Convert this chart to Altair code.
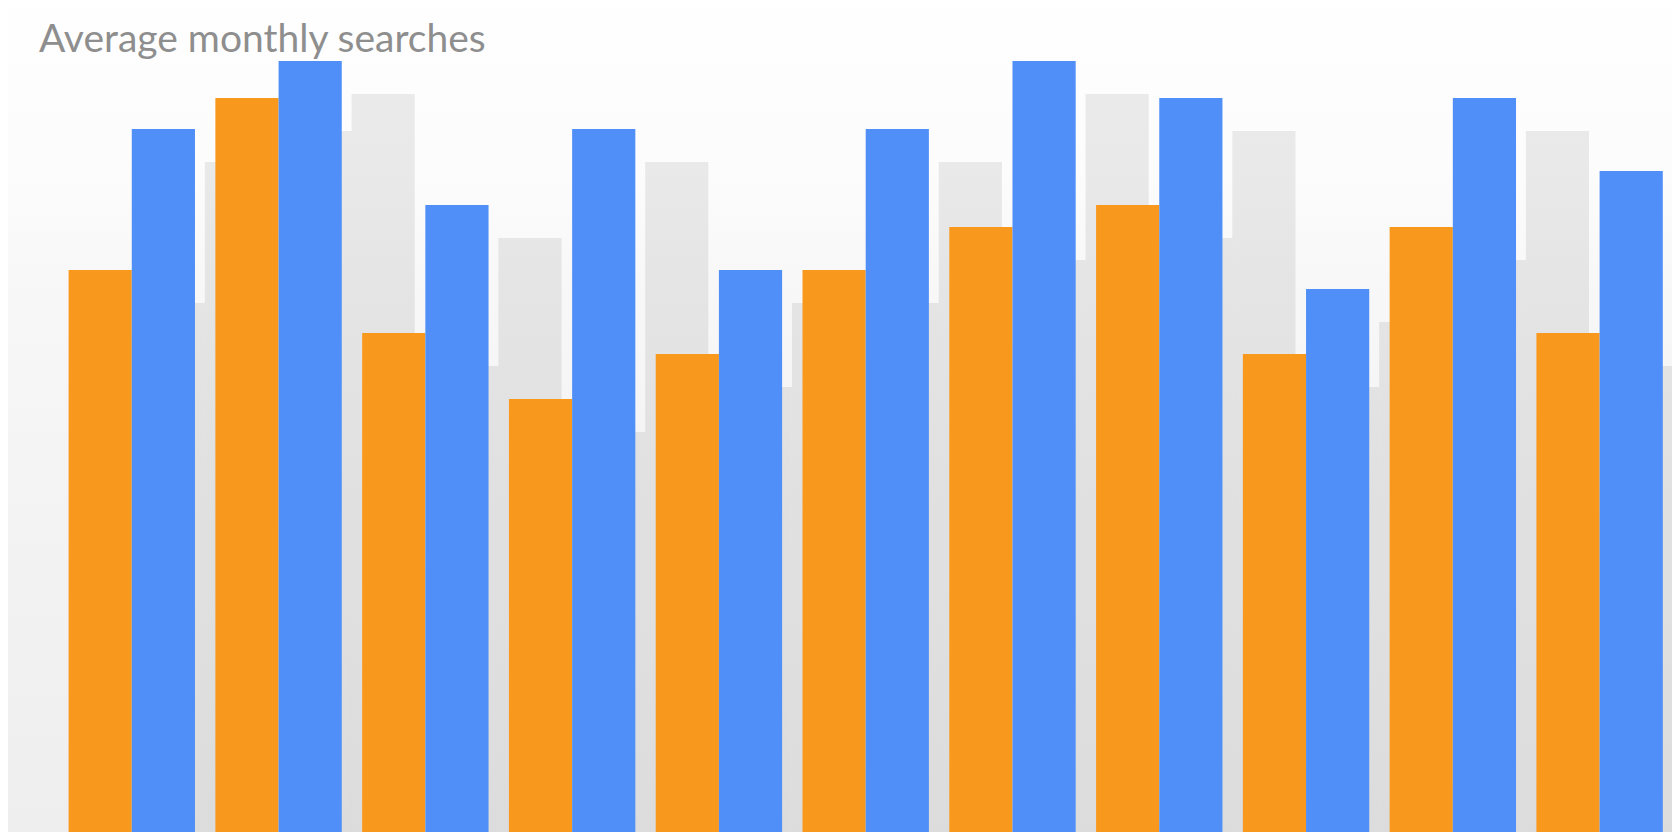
import altair as alt
import pandas as pd

# ---- data (no axes are shown, so units are bar heights) ----
groups = [f"Group {i}" for i in range(1, 12)]
series = ["Series A", "Series B"]
series_a = [570, 742, 507, 441, 486, 570, 613, 635, 486, 613, 507]   # orange
series_b = [711, 779, 635, 711, 570, 711, 779, 742, 551, 742, 669]   # blue
colors = ["#F8981D", "#4F8FF7"]
title_text = "Average monthly searches"

W, H = 1664, 824

rows = []
for g, a, b in zip(groups, series_a, series_b):
    rows.append({"group": g, "series": series[0], "value": a})
    rows.append({"group": g, "series": series[1], "value": b})
df = pd.DataFrame(rows)

x_enc = alt.X(
    "group:N", sort=groups, axis=None,
    scale=alt.Scale(range=[60.6, 1654.8], paddingInner=0.139, paddingOuter=0),
)
y_enc = alt.Y("value:Q", axis=None, scale=alt.Scale(domain=[8, 832], zero=False, nice=False))

gradient = alt.LinearGradient(
    gradient="linear",
    stops=[
        alt.GradientStop(color="#fefefe", offset=0),
        alt.GradientStop(color="#fcfcfc", offset=0.2),
        alt.GradientStop(color="#f8f8f8", offset=0.32),
        alt.GradientStop(color="#f4f4f4", offset=0.55),
        alt.GradientStop(color="#eeeeee", offset=1),
    ],
    x1=0, x2=0, y1=0, y2=1,
)

bg = alt.Chart(pd.DataFrame({"k": [0]})).mark_rect(color=gradient).encode(
    x=alt.value(0), x2=alt.value(W), y=alt.value(0), y2=alt.value(H)
)

shadow = alt.Chart(df).mark_bar(color="#000000", opacity=0.075, yOffset=33, clip=True).encode(
    x=x_enc,
    y=y_enc,
    xOffset=alt.XOffset("series:N", sort=series,
                        scale=alt.Scale(range=[73, 199.4], paddingInner=0, paddingOuter=0)),
)

bars = alt.Chart(df).mark_bar(clip=True).encode(
    x=x_enc,
    y=y_enc,
    xOffset=alt.XOffset("series:N", sort=series),
    color=alt.Color("series:N", sort=series, scale=alt.Scale(domain=series, range=colors), legend=None),
)

title = alt.Chart(pd.DataFrame({"t": [title_text]})).mark_text(
    align="left", baseline="alphabetic", font="Lato", fontSize=39, color="#8e8e8e"
).encode(text="t:N", x=alt.value(31), y=alt.value(44))

chart = (
    alt.layer(bg, shadow, bars, title)
    .resolve_scale(xOffset="independent")
    .properties(width=W, height=H, autosize=alt.AutoSizeParams(type="none"), padding=0)
    .configure_view(stroke=None)
)

chart.save("out.html", embed_options={"renderer": "svg", "actions": False})
